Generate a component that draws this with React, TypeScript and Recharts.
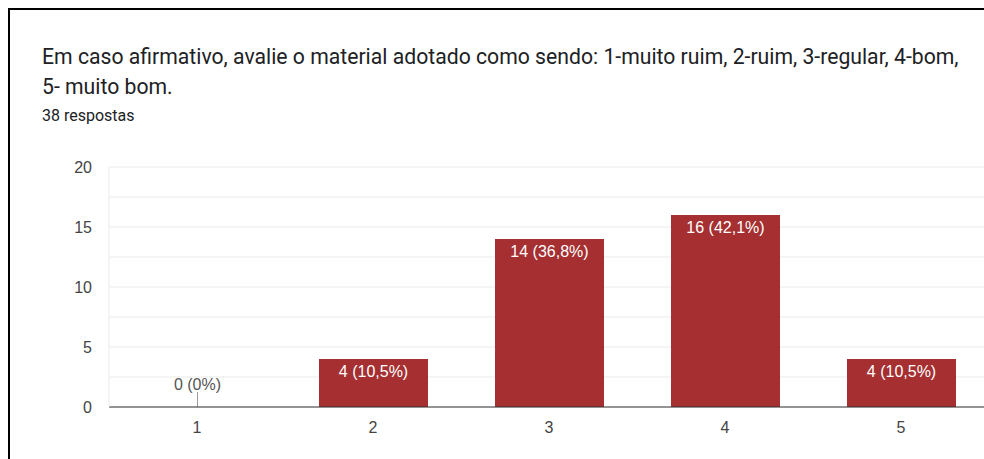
import { BarChart, Bar, XAxis, YAxis, CartesianGrid } from "recharts";

const categories = ["1", "2", "3", "4", "5"];
const counts = [0, 4, 14, 16, 4];
const yTicks = [0, 5, 10, 15, 20];
const gridValues = [0, 2.5, 5, 7.5, 10, 12.5, 15, 17.5, 20];
const total = 38;

const BAR_COLOR = "#a52f31";
const CHART_FONT = "Arial, 'Liberation Sans', sans-serif";

function pct(v: number): string {
  if (v === 0) return "0%";
  return (Math.round((v / total) * 1000) / 10).toFixed(1).replace(".", ",") + "%";
}

const data = categories.map((name, i) => ({ name, count: counts[i] }));

// draws the bar and its "n (p%)" label; zero bars get a small stub + gray label above
function BarShape(props: any) {
  const { x, y, width, height, value } = props;
  const v = Array.isArray(value) ? value[1] - value[0] : value;
  const cx = x + width / 2;
  const text = `${v} (${pct(v)})`;
  if (!v) {
    return (
      <g>
        <line x1={cx} x2={cx} y1={y - 15} y2={y} stroke="#999" strokeWidth={1} />
        <text x={cx} y={y - 23} textAnchor="middle" dominantBaseline="central" fill="#555" fontSize={16} fontFamily={CHART_FONT}>
          {text}
        </text>
      </g>
    );
  }
  return (
    <g>
      <rect x={x} y={y} width={width} height={height} fill={BAR_COLOR} />
      <text x={cx} y={y + 12.5} textAnchor="middle" dominantBaseline="central" fill="#fff" fontSize={16} fontFamily={CHART_FONT}>
        {text}
      </text>
    </g>
  );
}

export default function App() {
  return (
    <div style={{ position: "fixed", left: 8, top: 8, width: 976, height: 451, overflow: "hidden", background: "#fff" }}>
      <div
        style={{
          position: "absolute",
          left: 0,
          top: 0,
          width: 1100,
          height: 600,
          borderTop: "2px solid #000",
          borderLeft: "2px solid #000",
        }}
      />
      <div
        style={{
          position: "absolute",
          left: 34,
          top: 34,
          width: 930,
          fontFamily: "Roboto, sans-serif",
          fontSize: 21.2,
          lineHeight: "30px",
          color: "#202124",
        }}
      >
        Em caso afirmativo, avalie o material adotado como sendo: 1-muito ruim, 2-ruim, 3-regular, 4-bom, 5- muito bom.
      </div>
      <div
        style={{
          position: "absolute",
          left: 34,
          top: 98,
          fontFamily: "Roboto, sans-serif",
          fontSize: 16,
          color: "#202124",
        }}
      >
        38 respostas
      </div>
      <div style={{ position: "absolute", left: 0, top: 140 }}>
        <BarChart width={1000} height={320} data={data} margin={{ top: 19, right: 19, bottom: 31, left: 0 }} barSize={109}>
          <CartesianGrid horizontalValues={gridValues} vertical={false} stroke="#ebebeb" />
          <XAxis
            dataKey="name"
            height={30}
            tickLine={false}
            tickSize={0}
            tickMargin={15}
            axisLine={{ stroke: "#333" }}
            tick={{ fill: "#444", fontSize: 16, fontFamily: CHART_FONT }}
          />
          <YAxis
            domain={[0, 20]}
            ticks={yTicks}
            width={101}
            tickLine={false}
            tickSize={0}
            tickMargin={17}
            axisLine={{ stroke: "#ebebeb" }}
            tick={{ fill: "#444", fontSize: 16, fontFamily: CHART_FONT }}
          />
          <Bar dataKey="count" isAnimationActive={false} shape={BarShape} />
        </BarChart>
      </div>
    </div>
  );
}
